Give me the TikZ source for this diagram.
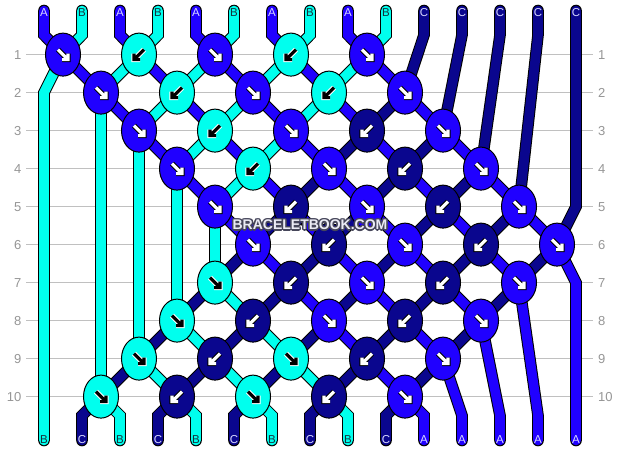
\documentclass[tikz,border=0pt]{standalone}
\usepackage{fontspec}
\setmainfont{Liberation Sans}
\usetikzlibrary{shapes.geometric}
\definecolor{cA}{RGB}{32,0,255}
\definecolor{cB}{RGB}{0,255,238}
\definecolor{cC}{RGB}{10,6,142}
\definecolor{gridc}{RGB}{192,192,192}
\definecolor{numc}{RGB}{150,150,150}
\definecolor{labL}{RGB}{215,215,255}
\definecolor{labD}{RGB}{20,50,60}
\definecolor{wmc}{RGB}{70,70,90}
\definecolor{wmf}{RGB}{235,235,245}
\newcommand\strandline[2]{\draw[strandout] #2; \draw[strandin, draw=#1] #2;}
\begin{document}
\begin{tikzpicture}[x=1pt,y=-1pt,
  strandout/.style={line width=11.6pt, draw=black, line cap=round, line join=miter},
  strandin/.style={line width=9.6pt, line cap=round, line join=miter},
  knot/.style={ellipse, draw=black, line width=1pt, minimum width=35pt, minimum height=43pt, inner sep=0pt},
  gridline/.style={draw=gridc, line width=1.3pt},
  rownum/.style={text=numc, font=\fontsize{13}{13}\selectfont, inner sep=0pt},
  endlabel/.style={font=\fontsize{11.5}{11.5}\selectfont, inner sep=0pt},
  arr/.style={line cap=square, line join=miter},
  wmtext/.style={font=\bfseries\fontsize{14}{14}\selectfont, inner sep=0pt}
]
\useasboundingbox (0,0) rectangle (620,452);
\fill[white] (0,0) rectangle (620,452);

% rows, grid, knot positions
\foreach \r in {1,...,10}{
  \pgfmathsetmacro\yy{54.6+38*(\r-1)}
  \node[rownum, anchor=east] (nl\r) at (21.5,\yy) {\r};
  \node[rownum, anchor=west] (nr\r) at (598,\yy) {\r};
  \draw[gridline] (26,\yy) -- (593,\yy);
  \foreach \p in {1,...,14}{ \coordinate (c\r-\p) at ({63+38*(\p-1)},\yy); }
  \coordinate (e\r-1) at (44,\yy);
  \coordinate (e\r-15) at (576,\yy);
}
\foreach \p in {1,...,15}{
  \coordinate (t\p) at ({44+38*(\p-1)},10.5);
  \coordinate (u\p) at ({44+38*(\p-1)},35);
  \coordinate (v\p) at ({44+38*(\p-1)},415.5);
  \coordinate (b\p) at ({44+38*(\p-1)},440.5);
}

% strands
\strandline{cA}{(t1)--(u1)--(c1-1)--(c10-10)--(v11)--(b11)}
\strandline{cA}{(t3)--(u3)--(c1-3)--(c9-11)--(v12)--(b12)}
\strandline{cA}{(t5)--(u5)--(c1-5)--(c8-12)--(v13)--(b13)}
\strandline{cA}{(t7)--(u7)--(c1-7)--(c7-13)--(v14)--(b14)}
\strandline{cA}{(t9)--(u9)--(c1-9)--(c6-14)--(e7-15)--(b15)}
\strandline{cB}{(t2)--(u2)--(c1-1)--(e2-1)--(b1)}
\strandline{cB}{(t4)--(u4)--(c1-3)--(c2-2)--(c10-2)--(v3)--(b3)}
\strandline{cB}{(t6)--(u6)--(c1-5)--(c3-3)--(c9-3)--(c10-4)--(v5)--(b5)}
\strandline{cB}{(t8)--(u8)--(c1-7)--(c4-4)--(c8-4)--(c10-6)--(v7)--(b7)}
\strandline{cB}{(t10)--(u10)--(c1-9)--(c5-5)--(c7-5)--(c10-8)--(v9)--(b9)}
\strandline{cC}{(t11)--(u11)--(c2-10)--(c10-2)--(v2)--(b2)}
\strandline{cC}{(t12)--(u12)--(c3-11)--(c10-4)--(v4)--(b4)}
\strandline{cC}{(t13)--(u13)--(c4-12)--(c10-6)--(v6)--(b6)}
\strandline{cC}{(t14)--(u14)--(c5-13)--(c10-8)--(v8)--(b8)}
\strandline{cC}{(t15)--(e5-15)--(c6-14)--(c10-10)--(v10)--(b10)}

% knots
\foreach \r/\p/\col/\d/\halo/\ink in {
 1/1/cA/1/black/white, 1/3/cB/-1/white/black, 1/5/cA/1/black/white, 1/7/cB/-1/white/black, 1/9/cA/1/black/white,
 2/2/cA/1/black/white, 2/4/cB/-1/white/black, 2/6/cA/1/black/white, 2/8/cB/-1/white/black, 2/10/cA/1/black/white,
 3/3/cA/1/black/white, 3/5/cB/-1/white/black, 3/7/cA/1/black/white, 3/9/cC/-1/black/white, 3/11/cA/1/black/white,
 4/4/cA/1/black/white, 4/6/cB/-1/white/black, 4/8/cA/1/black/white, 4/10/cC/-1/black/white, 4/12/cA/1/black/white,
 5/5/cA/1/black/white, 5/7/cC/-1/black/white, 5/9/cA/1/black/white, 5/11/cC/-1/black/white, 5/13/cA/1/black/white,
 6/6/cA/1/black/white, 6/8/cC/-1/black/white, 6/10/cA/1/black/white, 6/12/cC/-1/black/white, 6/14/cA/1/black/white,
 7/5/cB/1/white/black, 7/7/cC/-1/black/white, 7/9/cA/1/black/white, 7/11/cC/-1/black/white, 7/13/cA/1/black/white,
 8/4/cB/1/white/black, 8/6/cC/-1/black/white, 8/8/cA/1/black/white, 8/10/cC/-1/black/white, 8/12/cA/1/black/white,
 9/3/cB/1/white/black, 9/5/cC/-1/black/white, 9/7/cB/1/white/black, 9/9/cC/-1/black/white, 9/11/cA/1/black/white,
 10/2/cB/1/white/black, 10/4/cC/-1/black/white, 10/6/cB/1/white/black, 10/8/cC/-1/black/white, 10/10/cA/1/black/white}{
  \node[knot, fill=\col] (n\r-\p) at (c\r-\p) {};
  \begin{scope}[shift={(c\r-\p)}]
    \draw[arr, draw=\halo, line width=5.2pt] ({-5*\d},-5) -- ({4*\d},4) ({-1*\d},5) -- ({5*\d},5) -- ({5*\d},-1);
    \draw[arr, draw=\ink, line width=3.2pt] ({-5*\d},-5) -- ({4*\d},4) ({-1*\d},5) -- ({5*\d},5) -- ({5*\d},-1);
  \end{scope}
}

% end labels
\foreach \p/\l/\tc in {1/A/labL,2/B/labD,3/A/labL,4/B/labD,5/A/labL,6/B/labD,7/A/labL,8/B/labD,9/A/labL,10/B/labD,11/C/labL,12/C/labL,13/C/labL,14/C/labL,15/C/labL}{
  \node[endlabel, text=\tc] (lt\p) at ({44+38*(\p-1)},12.8) {\l};
}
\foreach \p/\l/\tc in {1/B/labD,2/C/labL,3/B/labD,4/C/labL,5/B/labD,6/C/labL,7/B/labD,8/C/labL,9/B/labD,10/C/labL,11/A/labL,12/A/labL,13/A/labL,14/A/labL,15/A/labL}{
  \node[endlabel, text=\tc] (lb\p) at ({44+38*(\p-1)},440) {\l};
}

% watermark (outlined text)
\foreach \dx/\dy [count=\i] in {-1.5/0,1.5/0,0/-1.5,0/1.5,-1.1/-1.1,1.1/-1.1,-1.1/1.1,1.1/1.1}{
  \node[wmtext, text=wmc] (wms\i) at ({310+\dx},{225+\dy}) {BRACELETBOOK.COM};
}
\node[wmtext, text=wmf] (wm) at (310,225) {BRACELETBOOK.COM};
\end{tikzpicture}
\end{document}
